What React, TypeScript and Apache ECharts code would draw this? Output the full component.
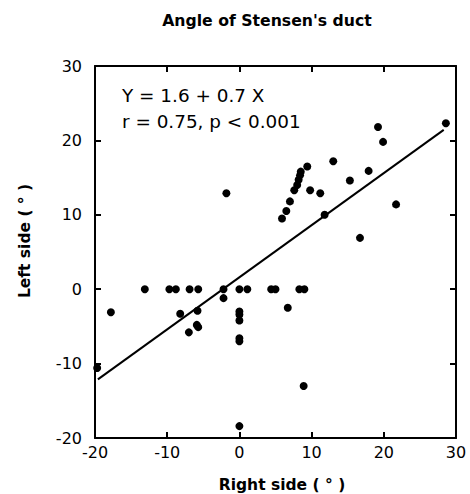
import React, { useEffect, useRef } from "react";
import * as echarts from "echarts";

const chartTitle = "Angle of Stensen's duct";
const xName = "Right side ( ° )";
const yName = "Left side ( ° )";
const equationText = "Y = 1.6 + 0.7 X";
const statsText = "r = 0.75, p < 0.001";

const rightSide = [
  -19.7, -17.8, -13.1, -9.7, -8.8, -8.2, -6.9, -7.0, -5.7, -5.8, -5.9, -5.7,
  -2.2, -2.2, -1.8, 0, 1.1, 0, 0, 0, 0, 0, 0, 4.4, 5.0, 6.7, 8.3, 9.0, 8.9,
  5.9, 6.5, 7.0, 7.6, 8.0, 8.2, 8.4, 8.5, 9.4, 9.8, 11.2, 11.8, 13.0, 15.3,
  17.9, 19.2, 19.9, 16.7, 21.7, 28.6,
];
const leftSide = [
  -10.6, -3.1, 0, 0, 0, -3.3, 0, -5.8, 0, -2.9, -4.8, -5.1,
  0, -1.2, 12.9, 0, 0, -3.0, -3.4, -4.2, -6.6, -7.0, -18.4, 0, 0, -2.5, 0, 0, -13.0,
  9.5, 10.5, 11.8, 13.3, 14.0, 14.7, 15.3, 15.8, 16.5, 13.3, 12.9, 10.0, 17.2, 14.6,
  15.9, 21.8, 19.8, 6.9, 11.4, 22.3,
];

const intercept = 1.6;
const slope = 0.7;
const fitRange = [-19.6, 28.3];

const axisMin = -20;
const axisMax = 30;
const axisStep = 10;

const FONT = "DejaVu Sans";

export default function App() {
  const ref = useRef<HTMLDivElement>(null);
  useEffect(() => {
    if (!ref.current) return;
    document.body.style.margin = "0";
    const chart = echarts.init(ref.current, null, { renderer: "svg" });
    const points = rightSide.map((x, i) => [x, leftSide[i]]);
    const fitLine = fitRange.map((x) => [x, intercept + slope * x]);
    const axisCommon = {
      type: "value",
      min: axisMin,
      max: axisMax,
      interval: axisStep,
      splitLine: { show: false },
      axisLine: { show: true, onZero: false, lineStyle: { color: "#000", width: 2 } },
      axisTick: { show: true, inside: true, length: 6, lineStyle: { color: "#000", width: 2 } },
    };
    chart.setOption({
      animation: false,
      backgroundColor: "#fff",
      grid: { left: 95, right: 14, top: 66, bottom: 56 },
      xAxis: [
        {
          ...axisCommon,
          position: "bottom",
          axisLabel: { color: "#000", fontSize: 16, fontFamily: FONT, margin: 6 },
        },
        {
          ...axisCommon,
          position: "top",
          axisLabel: { show: false },
        },
      ],
      yAxis: [
        {
          ...axisCommon,
          position: "left",
          axisLabel: { color: "#000", fontSize: 16, fontFamily: FONT, margin: 13 },
        },
        {
          ...axisCommon,
          position: "right",
          axisLabel: { show: false },
        },
      ],
      series: [
        {
          type: "line",
          data: fitLine,
          showSymbol: false,
          symbol: "none",
          lineStyle: { color: "#000", width: 2 },
          silent: true,
          z: 2,
        },
        {
          type: "scatter",
          data: points,
          symbol: "circle",
          symbolSize: 8,
          itemStyle: { color: "#000", opacity: 1 },
          clip: false,
          z: 3,
        },
      ],
      graphic: [
        {
          type: "text",
          x: 267,
          y: 20,
          style: {
            text: chartTitle,
            fill: "#000",
            font: `bold 15.7px "${FONT}"`,
            textAlign: "center",
            textVerticalAlign: "middle",
          },
        },
        {
          type: "text",
          x: 282,
          y: 485,
          style: {
            text: xName,
            fill: "#000",
            font: `bold 15.5px "${FONT}"`,
            textAlign: "center",
            textVerticalAlign: "middle",
          },
        },
        {
          type: "text",
          x: 25,
          y: 241,
          rotation: Math.PI / 2,
          style: {
            text: yName,
            fill: "#000",
            font: `bold 15.5px "${FONT}"`,
            textAlign: "center",
            textVerticalAlign: "middle",
          },
        },
        {
          type: "text",
          x: 122,
          y: 95,
          style: {
            text: equationText,
            fill: "#000",
            font: `18.4px "${FONT}"`,
            textAlign: "left",
            textVerticalAlign: "middle",
          },
        },
        {
          type: "text",
          x: 122,
          y: 121,
          style: {
            text: statsText,
            fill: "#000",
            font: `18.4px "${FONT}"`,
            textAlign: "left",
            textVerticalAlign: "middle",
          },
        },
      ],
    });
    return () => chart.dispose();
  }, []);
  return <div ref={ref} style={{ width: 470, height: 494 }} />;
}
